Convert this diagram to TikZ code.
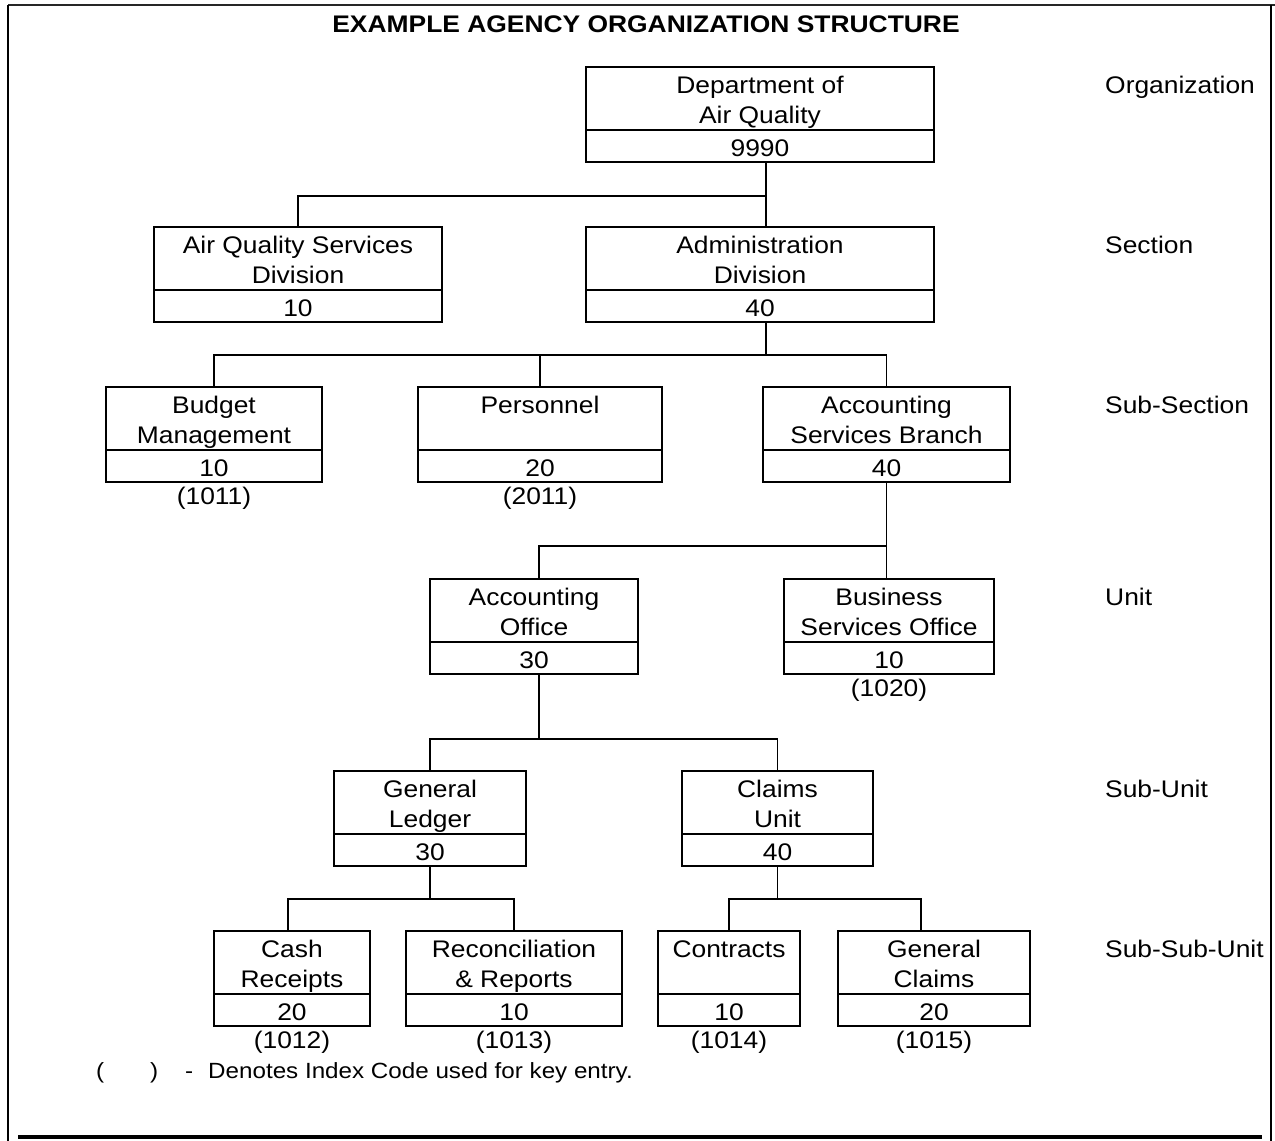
\documentclass[tikz,border=0pt]{standalone}
\usepackage{fontspec}
\setmainfont[FakeStretch=1.1]{Liberation Sans}
\usetikzlibrary{calc}
\tikzset{
  ln/.style={line width=1.8pt},
  obox/.style={draw, line width=1.8pt, rectangle, inner sep=0pt, outer sep=0pt, minimum height=95pt},
  txt/.style={font=\fontsize{24}{30}\selectfont, inner sep=0pt, outer sep=0pt, anchor=base},
  lvl/.style={font=\fontsize{24}{30}\selectfont, inner sep=0pt, anchor=base west},
  leg/.style={font=\fontsize{22}{28}\selectfont, inner sep=0pt, anchor=base west},
}
\newcommand\orgbox[7]{%
  \node[obox, minimum width=#4pt, anchor=north] (#1) at (#2,#3) {};
  \draw[ln] ($(#1.north west)+(0,-63pt)$) -- ($(#1.north east)+(0,-63pt)$);
  \node[txt] (#1-a) at ($(#1.north)+(0,-26pt)$) {#5};
  \node[txt] (#1-b) at ($(#1.north)+(0,-56pt)$) {#6};
  \node[txt] (#1-n) at ($(#1.north)+(0,-89pt)$) {#7};
}
\newcommand\idx[2]{\node[txt] (#1-i) at ($(#1.south)+(0,-22pt)$) {#2};}
\begin{document}
\begin{tikzpicture}[x=1pt,y=-1pt]
\useasboundingbox (0,0) rectangle (1275,1141);
% frame
\draw[line width=2pt, black!85] (8,5) -- (1275,5);
\draw[line width=2pt] (8,5) -- (8,1141);
\draw[line width=2pt] (1271,5) -- (1271,1141);
\draw[line width=4pt] (18,1137) -- (1262,1137);
% title
\node[txt, font=\fontsize{24}{30}\selectfont\bfseries] (title) at (646,32) {EXAMPLE AGENCY ORGANIZATION STRUCTURE};
% boxes
\orgbox{dep}{760}{67}{348}{Department of}{Air Quality}{9990}
\orgbox{aqs}{298}{227}{288}{Air Quality Services}{Division}{10}
\orgbox{adm}{760}{227}{348}{Administration}{Division}{40}
\orgbox{bud}{214}{387}{216}{Budget}{Management}{10}
\orgbox{per}{540}{387}{244}{Personnel}{}{20}
\orgbox{acs}{886.5}{387}{247}{Accounting}{Services Branch}{40}
\orgbox{aco}{534}{579}{208}{Accounting}{Office}{30}
\orgbox{bso}{889}{579}{210}{Business}{Services Office}{10}
\orgbox{gl}{430}{771}{192}{General}{Ledger}{30}
\orgbox{cu}{777.5}{771}{191}{Claims}{Unit}{40}
\orgbox{cr}{292}{931}{156}{Cash}{Receipts}{20}
\orgbox{rr}{514}{931}{216}{Reconciliation}{\& Reports}{10}
\orgbox{con}{729}{931}{142}{Contracts}{}{10}
\orgbox{gc}{934}{931}{192}{General}{Claims}{20}
% index codes
\idx{bud}{(1011)}
\idx{per}{(2011)}
\idx{bso}{(1020)}
\idx{cr}{(1012)}
\idx{rr}{(1013)}
\idx{con}{(1014)}
\idx{gc}{(1015)}
% level labels
\node[lvl] (l1) at (1105,93) {Organization};
\node[lvl] (l2) at (1105,253) {Section};
\node[lvl] (l3) at (1105,413) {Sub-Section};
\node[lvl] (l4) at (1105,605) {Unit};
\node[lvl] (l5) at (1105,797) {Sub-Unit};
\node[lvl] (l6) at (1105,957) {Sub-Sub-Unit};
% legend
\node[leg] (lg1) at (96,1078) {(};
\node[leg] (lg2) at (150,1078) {)};
\node[leg] (lg3) at (185,1078) {-};
\node[leg] (lg4) at (208,1078) {Denotes Index Code used for key entry.};
% connectors
\coordinate (d1) at ([xshift=6pt]dep.south);
\coordinate (bus1) at (0,196);
\draw[ln] (d1) -- (d1 |- adm.north);
\draw[ln] (d1 |- bus1) -| (aqs.north);
\coordinate (d2) at ([xshift=6pt]adm.south);
\coordinate (bus2) at (0,355);
\draw[ln] (d2) -- (d2 |- bus2);
\draw[ln] (bud.north) |- (bus2 -| acs.north) -- (acs.north);
\draw[ln] (bus2 -| per.north) -- (per.north);
\coordinate (bus3) at (0,546);
\coordinate (a4) at ([xshift=5pt]aco.north);
\draw[ln] (acs.south) |- (a4 |- bus3) -- (a4);
\draw[ln] (acs.south |- bus3) -- (acs.south |- bso.north);
\coordinate (d4) at ([xshift=5pt]aco.south);
\coordinate (bus4) at (0,739);
\draw[ln] (d4) -- (d4 |- bus4);
\draw[ln] (gl.north) |- (bus4 -| cu.north) -- (cu.north);
\coordinate (bus5) at (0,899);
\coordinate (c6) at ([xshift=-4pt]cr.north);
\draw[ln] (gl.south) -- (gl.south |- bus5);
\draw[ln] (c6) |- (bus5 -| rr.north) -- (rr.north);
\coordinate (g6) at ([xshift=-13pt]gc.north);
\draw[ln] (cu.south) -- (cu.south |- bus5);
\draw[ln] (con.north) |- (g6 |- bus5) -- (g6);
\end{tikzpicture}
\end{document}
